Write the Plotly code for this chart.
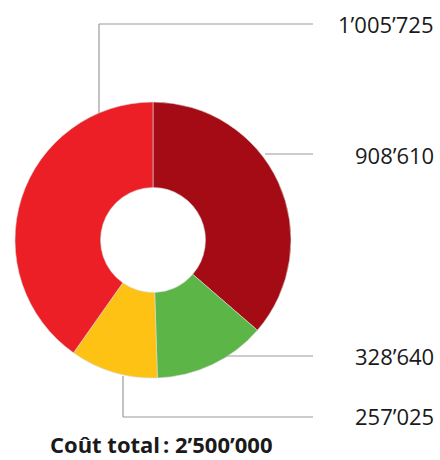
import plotly.graph_objects as go

# slices in clockwise order starting at 12 o'clock
labels = ["Poste A", "Poste B", "Poste C", "Poste D"]
values = [908610, 328640, 257025, 1005725]
colors = ["#A50B15", "#5CB647", "#FDC214", "#ED1F26"]
total_label = "Coût total\u202f: 2’500’000"

W, H = 440, 460


def fmt(v):
    return f"{v:,}".replace(",", "’")


def px(x):
    return x / W


def py(y):
    return 1 - y / H


fig = go.Figure()

fig.add_trace(go.Pie(
    labels=labels,
    values=values,
    marker=dict(colors=colors, line=dict(color="#d8d8d8", width=0.6)),
    hole=0.38,
    sort=False,
    direction="clockwise",
    rotation=0,
    textinfo="none",
    hoverinfo="label+value",
    showlegend=False,
    domain=dict(x=[px(15), px(291)], y=[py(378), py(102)]),
))

# leader lines (pixel positions of the original artwork)
line_style = dict(color="#9a9a9a", width=1.2)
leaders = [
    [(99, 113), (99, 24), (313, 24)],      # 1'005'725
    [(265, 154), (313, 154)],              # 908'610
    [(226, 356), (313, 356)],              # 328'640
    [(123, 376), (123, 417), (313, 417)],  # 257'025
]
for pts in leaders:
    for (x0, y0), (x1, y1) in zip(pts[:-1], pts[1:]):
        fig.add_shape(type="line", xref="paper", yref="paper",
                      x0=px(x0), y0=py(y0), x1=px(x1), y1=py(y1),
                      line=line_style)

# value labels
label_y = {1005725: 24, 908610: 155, 328640: 356, 257025: 416}
for v in values:
    fig.add_annotation(
        text=fmt(v), xref="paper", yref="paper",
        x=px(436), y=py(label_y[v]), xanchor="right", yanchor="middle",
        showarrow=False, font=dict(size=22, color="#1a1a1a"),
    )

fig.add_annotation(
    text=f"<b>{total_label}</b>", xref="paper", yref="paper",
    x=px(161), y=py(444), xanchor="center", yanchor="middle",
    showarrow=False, font=dict(size=22, color="#1a1a1a"),
)

fig.update_layout(
    width=W, height=H,
    margin=dict(l=0, r=0, t=0, b=0),
    paper_bgcolor="white",
    plot_bgcolor="white",
    font=dict(family="Open Sans, Noto Sans, sans-serif"),
)

# la page a une marge par défaut de 8px -> on l'enlève
fig.write_html("out.html",
               config={"displayModeBar": False},
               post_script="document.body.style.margin='0';document.body.style.overflow='hidden';")
